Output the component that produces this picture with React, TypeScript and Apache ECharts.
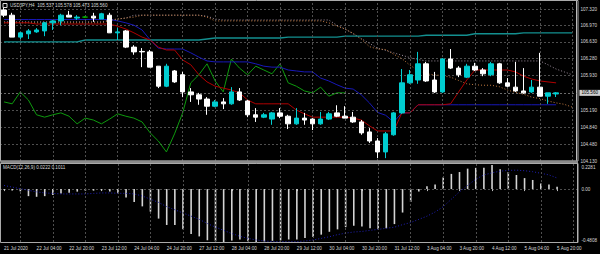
import React, { useEffect, useRef } from 'react';
import * as echarts from 'echarts';

// ---------- DATA ----------
const days = ['21 Jul', '22 Jul', '23 Jul', '24 Jul', '27 Jul', '28 Jul', '29 Jul', '30 Jul', '31 Jul', '3 Aug', '4 Aug', '5 Aug', '6 Aug'];
const hours = ['00:00', '04:00', '08:00', '12:00', '16:00', '20:00'];
const categories: string[] = [];
days.forEach((d, di) => {
  hours.forEach((h, hi) => {
    if (di === 0 && hi < 3) return;
    if (categories.length < 71) categories.push(d + ' ' + h);
  });
});

const xTickLabels = ['21 Jul 2020', '22 Jul 04:00', '22 Jul 20:00', '23 Jul 12:00', '24 Jul 04:00', '24 Jul 20:00', '27 Jul 12:00', '28 Jul 04:00', '28 Jul 20:00', '29 Jul 12:00', '30 Jul 04:00', '30 Jul 20:00', '31 Jul 12:00', '3 Aug 04:00', '3 Aug 20:00', '4 Aug 12:00', '5 Aug 04:00', '5 Aug 20:00'];

const priceLabels = [107.32, 106.97, 106.63, 106.28, 105.93, 105.19, 104.84, 104.48, 104.13];
const priceGrid = [107.32, 106.97, 106.63, 106.28, 105.93, 105.56, 105.19, 104.84, 104.48, 104.13];
const bidPrice = 105.56;
const macdLabels = [0.2281, 0, -0.4808];

// [open, close, low, high]
const candles = [
  [107.30, 107.19, 107.15, 107.34],
  [107.19, 106.73, 106.73, 107.24],
  [106.73, 106.82, 106.69, 106.84],
  [106.80, 106.86, 106.69, 106.90],
  [106.84, 106.88, 106.82, 106.92],
  [106.86, 107.03, 106.75, 107.05],
  [107.03, 107.07, 106.88, 107.09],
  [107.07, 107.19, 106.98, 107.22],
  [107.19, 107.15, 107.15, 107.28],
  [107.13, 107.15, 107.09, 107.19],
  [107.15, 107.15, 107.13, 107.17],
  [107.17, 107.13, 107.05, 107.24],
  [107.11, 107.22, 107.11, 107.24],
  [107.19, 106.82, 106.82, 107.24],
  [106.82, 106.84, 106.67, 106.92],
  [106.86, 106.52, 106.50, 106.88],
  [106.52, 106.42, 106.36, 106.56],
  [106.43, 106.42, 106.10, 106.50],
  [106.42, 106.10, 106.10, 106.46],
  [106.12, 105.70, 105.66, 106.12],
  [105.70, 106.12, 105.68, 106.17],
  [106.02, 105.79, 105.77, 106.04],
  [105.94, 105.58, 105.47, 106.00],
  [105.58, 105.52, 105.37, 105.66],
  [105.52, 105.43, 105.31, 105.56],
  [105.43, 105.28, 105.10, 105.47],
  [105.28, 105.37, 105.26, 105.41],
  [105.37, 105.33, 105.22, 105.45],
  [105.33, 105.58, 105.31, 105.68],
  [105.58, 105.41, 105.39, 105.66],
  [105.39, 105.10, 105.05, 105.41],
  [105.10, 105.05, 104.95, 105.24],
  [105.05, 105.10, 105.03, 105.14],
  [105.01, 105.14, 104.89, 105.16],
  [105.14, 105.07, 105.03, 105.24],
  [105.07, 104.91, 104.80, 105.10],
  [104.91, 105.03, 104.89, 105.24],
  [105.03, 104.99, 104.89, 105.14],
  [105.01, 104.91, 104.78, 105.03],
  [104.91, 105.01, 104.89, 105.16],
  [105.01, 105.12, 104.99, 105.16],
  [105.14, 105.07, 105.05, 105.30],
  [105.07, 105.03, 105.03, 105.28],
  [105.05, 104.95, 104.93, 105.16],
  [104.95, 104.72, 104.68, 104.99],
  [104.74, 104.55, 104.51, 104.82],
  [104.55, 104.32, 104.19, 104.61],
  [104.32, 104.70, 104.19, 104.74],
  [104.68, 105.14, 104.66, 105.16],
  [105.14, 105.77, 105.12, 106.06],
  [105.77, 105.94, 105.75, 106.04],
  [105.83, 106.17, 105.75, 106.42],
  [106.17, 105.81, 105.79, 106.21],
  [105.83, 105.58, 105.56, 106.00],
  [105.58, 106.27, 105.56, 106.29],
  [106.27, 106.08, 106.06, 106.48],
  [106.08, 105.94, 105.89, 106.12],
  [105.89, 106.12, 105.87, 106.17],
  [106.12, 106.04, 106.02, 106.19],
  [106.04, 105.96, 105.91, 106.08],
  [105.94, 106.17, 105.91, 106.21],
  [106.17, 105.77, 105.75, 106.19],
  [105.77, 105.70, 105.68, 105.87],
  [105.68, 105.60, 105.58, 106.21],
  [105.60, 105.56, 105.54, 106.08],
  [105.58, 105.68, 105.56, 105.83],
  [105.68, 105.49, 105.49, 106.40],
  [105.49, 105.56, 105.33, 105.56],
  [105.537, 105.560, 105.473, 105.578],
];

const tenkan = [107.03, 107.03, 107.03, 107.03, 107.005, 107.005, 107.005, 107.005, 107.005, 107.005, 107.005, 107.005, 107.005, 107.005, 106.96, 106.90, 106.82, 106.73, 106.67, 106.52, 106.46, 106.46, 106.25, 106.15, 105.94, 105.79, 105.70, 105.66, 105.62, 105.56, 105.41, 105.33, 105.33, 105.33, 105.33, 105.33, 105.20, 105.12, 105.05, 105.05, 105.05, 105.05, 105.05, 105.03, 104.99, 104.87, 104.76, 104.76, 104.76, 105.14, 105.14, 105.31, 105.31, 105.31, 105.31, 105.33, 105.58, 105.83, 106.04, 106.04, 106.04, 106.04, 106.04, 106.00, 105.91, 105.85, 105.81, 105.79, 105.77];

const kijun = [107.10, 107.10, 107.10, 107.10, 107.10, 107.10, 107.10, 107.10, 107.10, 107.10, 107.10, 107.10, 107.10, 107.10, 107.07, 107.03, 106.98, 106.88, 106.67, 106.50, 106.48, 106.48, 106.48, 106.40, 106.31, 106.23, 106.21, 106.21, 106.21, 106.21, 106.21, 106.17, 106.12, 106.10, 106.10, 106.04, 106.02, 106.00, 106.00, 105.87, 105.81, 105.73, 105.66, 105.64, 105.52, 105.35, 105.15, 105.09, 104.95, 105.14, 105.14, 105.31, 105.31, 105.31, 105.31, 105.31, 105.31, 105.31, 105.31, 105.31, 105.31, 105.31, 105.31, 105.31, 105.31, 105.31, 105.31, 105.31, 105.31];

const chikou = [105.37, 105.33, 105.58, 105.41, 105.10, 105.05, 105.10, 105.14, 105.07, 104.91, 105.03, 104.99, 104.91, 105.01, 105.12, 105.07, 105.03, 104.95, 104.72, 104.55, 104.32, 104.70, 105.14, 105.77, 105.94, 106.17, 105.81, 105.58, 106.27, 106.08, 105.94, 106.12, 106.04, 105.96, 106.17, 105.77, 105.70, 105.60, 105.56, 105.68, 105.49, 105.56, 105.56];

const senkouA = [107.03, 107.03, 107.03, 107.03, 107.03, 107.03, 107.03, 107.03, 107.03, 107.03, 107.03, 107.03, 107.03, 107.07, 107.11, 107.13, 107.15, 107.19, 107.19, 107.19, 107.19, 107.19, 107.19, 107.19, 107.19, 107.15, 107.07, 107.07, 107.07, 107.07, 107.07, 107.07, 107.07, 107.07, 107.07, 107.07, 107.07, 107.07, 107.07, 107.07, 107.03, 106.96, 106.90, 106.81, 106.69, 106.53, 106.48, 106.47, 106.37, 106.28, 106.14, 106.03, 105.96, 105.94, 105.92, 105.89, 105.82, 105.75, 105.73, 105.72, 105.72, 105.69, 105.62, 105.57, 105.53, 105.47, 105.44, 105.39, 105.35, 105.32, 105.26];

const senkouB = [107.05, 107.05, 107.05, 107.05, 107.05, 107.05, 107.05, 107.05, 107.05, 107.05, 107.05, 107.05, 107.05, 107.09, 107.11, 107.13, 107.19, 107.19, 107.19, 107.19, 107.19, 107.19, 107.19, 107.19, 107.19, 107.17, 107.11, 107.09, 107.09, 107.09, 107.09, 107.09, 107.09, 107.09, 107.09, 107.09, 107.09, 107.09, 107.09, 107.09, 107.09, 106.98, 106.90, 106.80, 106.70, 106.60, 106.50, 106.45, 106.40, 106.35, 106.30, 106.26, 106.23, 106.23, 106.23, 106.23, 106.23, 106.23, 106.23, 106.23, 106.23, 106.23, 106.23, 106.23, 106.23, 106.23, 106.23, 106.15, 106.06, 106.00, 105.94];

const tealMA = [106.63, 106.63, 106.63, 106.63, 106.63, 106.63, 106.63, 106.63, 106.63, 106.63, 106.67, 106.67, 106.67, 106.67, 106.67, 106.67, 106.67, 106.67, 106.67, 106.67, 106.67, 106.67, 106.67, 106.67, 106.67, 106.69, 106.71, 106.71, 106.71, 106.71, 106.71, 106.71, 106.71, 106.71, 106.71, 106.73, 106.73, 106.73, 106.73, 106.73, 106.73, 106.73, 106.75, 106.75, 106.75, 106.75, 106.75, 106.75, 106.75, 106.75, 106.75, 106.75, 106.77, 106.77, 106.77, 106.77, 106.77, 106.77, 106.80, 106.80, 106.80, 106.80, 106.80, 106.80, 106.82, 106.82, 106.82, 106.82, 106.82, 106.82, 106.82];

const macdHist = [-0.005, -0.013, -0.02, -0.064, -0.07, -0.064, -0.054, -0.04, -0.033, -0.023, -0.014, -0.014, -0.011, -0.022, -0.038, -0.076, -0.118, -0.157, -0.205, -0.268, -0.326, -0.326, -0.365, -0.407, -0.43, -0.465, -0.474, -0.4808, -0.468, -0.458, -0.474, -0.48, -0.476, -0.47, -0.466, -0.458, -0.458, -0.445, -0.436, -0.414, -0.388, -0.366, -0.346, -0.333, -0.34, -0.356, -0.362, -0.356, -0.318, -0.213, -0.117, -0.022, 0.026, 0.042, 0.106, 0.138, 0.155, 0.186, 0.193, 0.193, 0.22, 0.18, 0.155, 0.128, 0.10, 0.083, 0.05, 0.042, 0.0222];

const macdSignal = [0.033, 0.018, 0.004, -0.011, -0.025, -0.035, -0.039, -0.044, -0.044, -0.044, -0.044, -0.039, -0.035, -0.035, -0.038, -0.039, -0.044, -0.063, -0.092, -0.121, -0.16, -0.188, -0.217, -0.246, -0.275, -0.313, -0.346, -0.375, -0.404, -0.429, -0.448, -0.462, -0.472, -0.477, -0.477, -0.477, -0.477, -0.472, -0.462, -0.448, -0.433, -0.414, -0.4, -0.39, -0.385, -0.375, -0.366, -0.356, -0.346, -0.323, -0.304, -0.275, -0.246, -0.208, -0.16, -0.092, -0.025, 0.033, 0.09, 0.129, 0.148, 0.163, 0.17, 0.172, 0.167, 0.158, 0.144, 0.129, 0.1011];

const headerText = 'USDJPY,H4  105.537 105.578 105.473 105.560';
const macdText = 'MACD(12,26,9) 0.0222 0.1011';

// ---------- STYLE ----------
const FONT = 'Liberation Sans, Arial, sans-serif';
const GRID_COLOR = '#4e4e4e';
const TEXT_COLOR = '#d8d8d8';
const FS = 4.6;

export default function App() {
  const ref = useRef<HTMLDivElement>(null);
  useEffect(() => {
    if (!ref.current) return;
    const chart = echarts.init(ref.current, null, { renderer: 'svg' });
    const labelInterval = (i: number) => i % 4 === 0 && i / 4 < xTickLabels.length;
    const vGrid = categories.map((_, i) => i).filter((i) => i % 4 === 2).map((i) => ({ xAxis: i }));
    const pad = (arr: any[]) => categories.map((_, i) => (i < arr.length ? arr[i] : '-'));
    const richBase = { fontSize: FS, color: TEXT_COLOR, fontFamily: FONT };

    const option: any = {
      animation: false,
      backgroundColor: '#000',
      textStyle: { fontFamily: FONT },
      grid: [
        { left: -3, right: 22, top: 1, height: 160 },
        { left: -3, right: 22, top: 164, height: 78 },
      ],
      xAxis: [
        {
          type: 'category', gridIndex: 0, data: categories, boundaryGap: true,
          axisLine: { show: false }, axisTick: { show: false }, axisLabel: { show: false }, splitLine: { show: false },
        },
        {
          type: 'category', gridIndex: 1, data: categories, boundaryGap: true,
          axisLine: { show: false },
          axisTick: { show: true, interval: labelInterval, alignWithLabel: true, length: 2, lineStyle: { color: '#bbb' } },
          axisLabel: {
            interval: labelInterval,
            formatter: (_v: string, i: number) => xTickLabels[i / 4] || '',
            align: 'left', color: TEXT_COLOR, fontSize: FS, margin: 4, fontFamily: FONT,
          },
          splitLine: { show: false },
        },
      ],
      yAxis: [
        {
          type: 'value', gridIndex: 0, position: 'right', min: 104.13, max: 107.488,
          axisLine: { show: true, lineStyle: { color: '#bbb' } },
          axisTick: { show: false, customValues: priceGrid },
          axisLabel: {
            customValues: priceLabels, formatter: (v: number) => v.toFixed(3),
            color: TEXT_COLOR, fontSize: FS, margin: 4, fontFamily: FONT,
          },
          splitLine: { show: true, lineStyle: { color: GRID_COLOR, type: [2, 2], width: 1 } },
        },
        {
          type: 'value', gridIndex: 1, position: 'right', min: -0.4808, max: 0.2281,
          axisLine: { show: true, lineStyle: { color: '#bbb' } },
          axisTick: { show: false, customValues: [0] },
          axisLabel: {
            customValues: macdLabels,
            formatter: (v: number) => (v === 0 ? '{mid|0.00}' : v > 0 ? '{top|' + v.toFixed(4) + '}' : '{bot|' + v.toFixed(4) + '}'),
            rich: {
              mid: { ...richBase },
              top: { ...richBase, padding: [6, 0, 0, 0] },
              bot: { ...richBase, padding: [0, 0, 4, 0] },
            },
            color: TEXT_COLOR, fontSize: FS, margin: 4, fontFamily: FONT,
          },
          splitLine: { show: true, lineStyle: { color: GRID_COLOR, type: [2, 2], width: 1 } },
        },
      ],
      series: [
        {
          type: 'line', name: 'SenkouB', xAxisIndex: 0, yAxisIndex: 0, data: senkouB, showSymbol: false, z: 2,
          lineStyle: { color: '#9c8c9c', width: 1, type: [1, 2] },
          markLine: {
            silent: true, symbol: ['none', 'none'], label: { show: false },
            lineStyle: { color: GRID_COLOR, type: [2, 2], width: 1 }, data: vGrid,
          },
        },
        {
          type: 'line', name: 'SenkouA', xAxisIndex: 0, yAxisIndex: 0, data: senkouA, showSymbol: false, z: 2,
          lineStyle: { color: '#c07a40', width: 1, type: [1, 2] },
        },
        {
          type: 'line', name: 'MA', xAxisIndex: 0, yAxisIndex: 0, data: tealMA, showSymbol: false, z: 3,
          lineStyle: { color: '#139090', width: 1.4 },
        },
        {
          type: 'line', name: 'Chikou', xAxisIndex: 0, yAxisIndex: 0, data: pad(chikou), showSymbol: false, z: 3,
          lineStyle: { color: '#0e9a0e', width: 1 },
        },
        {
          type: 'line', name: 'Kijun', xAxisIndex: 0, yAxisIndex: 0, data: pad(kijun), showSymbol: false, z: 3,
          lineStyle: { color: '#1818b8', width: 1 },
        },
        {
          type: 'line', name: 'Tenkan', xAxisIndex: 0, yAxisIndex: 0, data: pad(tenkan), showSymbol: false, z: 3,
          lineStyle: { color: '#b00000', width: 1 },
        },
        {
          type: 'candlestick', name: 'USDJPY', xAxisIndex: 0, yAxisIndex: 0, data: pad(candles), z: 5,
          barWidth: 5,
          itemStyle: {
            color: '#00cdd0', color0: '#ffffff', borderColor: '#00cdd0', borderColor0: '#ffffff',
            borderColorDoji: '#00b000', borderWidth: 1,
          },
          markLine: {
            silent: true, symbol: ['none', 'none'],
            lineStyle: { color: '#6a6a6a', type: [2, 2], width: 1 },
            label: {
              show: true, position: 'end', formatter: bidPrice.toFixed(3), color: '#000',
              backgroundColor: '#cfcfcf', fontSize: FS, padding: [1, 2, 0, 2], distance: 3, fontFamily: FONT,
            },
            data: [{ yAxis: bidPrice }],
          },
        },
        {
          type: 'bar', name: 'MACD', xAxisIndex: 1, yAxisIndex: 1, data: pad(macdHist), barWidth: 1.6, z: 3,
          itemStyle: { color: '#d4d4d4' },
          markLine: {
            silent: true, symbol: ['none', 'none'], label: { show: false },
            lineStyle: { color: GRID_COLOR, type: [2, 2], width: 1 }, data: vGrid,
          },
        },
        {
          type: 'line', name: 'Signal', xAxisIndex: 1, yAxisIndex: 1, data: pad(macdSignal), showSymbol: false, z: 4,
          lineStyle: { color: '#2020b4', width: 1, type: [1, 2] },
        },
      ],
      graphic: [
        { type: 'rect', shape: { x: 0.5, y: 0.5, width: 577.5, height: 160.5 }, style: { fill: 'none', stroke: '#aaa', lineWidth: 1 }, silent: true, z: 10 },
        { type: 'rect', shape: { x: 0.5, y: 160.5, width: 577.5, height: 3 }, style: { fill: '#8a8a8a' }, silent: true, z: 10 },
        { type: 'rect', shape: { x: 0.5, y: 163.5, width: 577.5, height: 79 }, style: { fill: 'none', stroke: '#aaa', lineWidth: 1 }, silent: true, z: 10 },
        { type: 'rect', shape: { x: 3, y: 3.5, width: 4, height: 4 }, style: { fill: 'none', stroke: '#ddd', lineWidth: 1 }, silent: true, z: 10 },
        { type: 'text', x: 10, y: 3.2, style: { text: headerText, fill: TEXT_COLOR, fontSize: FS, fontFamily: FONT }, silent: true, z: 10 },
        { type: 'text', x: 3, y: 165, style: { text: macdText, fill: TEXT_COLOR, fontSize: FS, fontFamily: FONT }, silent: true, z: 10 },
      ],
    };
    chart.setOption(option);
    return () => chart.dispose();
  }, []);
  return <div ref={ref} style={{ position: 'fixed', left: 0, top: 0, width: 600, height: 254, background: '#000' }} />;
}
